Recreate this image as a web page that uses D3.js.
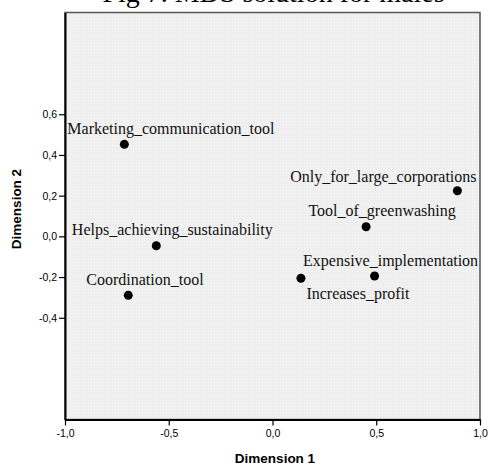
<!DOCTYPE html>
<html>
<head>
<meta charset="utf-8">
<script src="https://cdn.jsdelivr.net/npm/d3@7"></script>
<style>
  html, body { margin: 0; padding: 0; background: #fff; }
  svg { display: block; }
</style>
</head>
<body>
<svg id="chart" width="490" height="466"></svg>
<script>
// MDS stimulus coordinates
const stimuli = [
  "Marketing_communication_tool",
  "Helps_achieving_sustainability",
  "Coordination_tool",
  "Only_for_large_corporations",
  "Tool_of_greenwashing",
  "Expensive_implementation",
  "Increases_profit"
];
const dim1 = [-0.714, -0.560, -0.695, 0.891, 0.451, 0.492, 0.137];
const dim2 = [0.452, -0.046, -0.290, 0.224, 0.047, -0.195, -0.206];

// Tick values
const xTicks = [-1.0, -0.5, 0.0, 0.5, 1.0];
const yTicks = [-0.4, -0.2, 0.0, 0.2, 0.4, 0.6];

// Label placement relative to each point (label centre x, baseline y)
const labelShift = [
  [46.5, -10], [16, -10.7], [16.7, -10.3], [-74, -9], [16, -10.7], [16, -10], [57, 21]
];

const svg = d3.select("#chart");
const plot = { left: 65, right: 480, top: 12.5, bottom: 419.5 };

const x = d3.scaleLinear().domain([-1, 1]).range([plot.left, plot.right]);
const y = d3.scaleLinear().domain([-0.9, 1.1]).range([plot.bottom, plot.top]);
const fmt = v => d3.format(".1f")(v).replace(".", ",").replace("−", "-");

// Title (sits mostly above the top edge of the page)
svg.append("text")
  .attr("x", 273.5).attr("y", 1.5)
  .attr("text-anchor", "middle")
  .style("font-family", "'Liberation Serif', 'Times New Roman', serif")
  .style("font-size", "28px")
  .text("Fig 7. MDS solution for males");

// Plot background with fine dot texture
const defs = svg.append("defs");
const pat = defs.append("pattern")
  .attr("id", "dots").attr("width", 3).attr("height", 3)
  .attr("patternUnits", "userSpaceOnUse");
pat.append("rect").attr("width", 3).attr("height", 3).attr("fill", "#efefef");
pat.append("rect").attr("x", 1).attr("y", 1).attr("width", 1).attr("height", 1).attr("fill", "#f7f7f7");

svg.append("rect")
  .attr("x", plot.left).attr("y", plot.top)
  .attr("width", plot.right - plot.left).attr("height", plot.bottom - plot.top)
  .attr("fill", "url(#dots)")
  .attr("stroke", "#555").attr("stroke-width", 1.5);

// Axes
const xAxis = d3.axisBottom(x).tickValues(xTicks).tickFormat(fmt).tickSize(6).tickSizeOuter(0);
const yAxis = d3.axisLeft(y).tickValues(yTicks).tickFormat(fmt).tickSize(6).tickSizeOuter(0);

const gx = svg.append("g").attr("transform", `translate(0,${plot.bottom})`).call(xAxis);
const gy = svg.append("g").attr("transform", `translate(${plot.left},0)`).call(yAxis);

[gx, gy].forEach(g => {
  g.select(".domain").attr("stroke", "#000").attr("stroke-width", 2);
  g.selectAll(".tick line").attr("stroke", "#000").attr("stroke-width", 1.2);
  g.selectAll(".tick text")
    .attr("fill", "#000")
    .style("font-family", "Arial, 'Liberation Sans', sans-serif")
    .style("font-size", "10.5px");
});
gx.selectAll(".tick text").attr("dy", "0.71em").attr("y", 10);
gy.selectAll(".tick text").attr("x", -8);

// Axis titles
svg.append("text")
  .attr("x", 275).attr("y", 463)
  .attr("text-anchor", "middle")
  .style("font-family", "Arial, 'Liberation Sans', sans-serif")
  .style("font-size", "13.5px").style("font-weight", "bold")
  .text("Dimension 1");

svg.append("text")
  .attr("transform", "translate(21,209) rotate(-90)")
  .attr("text-anchor", "middle")
  .style("font-family", "Arial, 'Liberation Sans', sans-serif")
  .style("font-size", "13.5px").style("font-weight", "bold")
  .text("Dimension 2");

// Points and labels
const data = stimuli.map((name, i) => ({ name, d1: dim1[i], d2: dim2[i], shift: labelShift[i] }));

svg.append("g").selectAll("circle")
  .data(data).join("circle")
  .attr("cx", d => x(d.d1)).attr("cy", d => y(d.d2))
  .attr("r", 4.5).attr("fill", "#000");

svg.append("g").selectAll("text")
  .data(data).join("text")
  .attr("x", d => x(d.d1) + d.shift[0])
  .attr("y", d => y(d.d2) + d.shift[1])
  .attr("text-anchor", "middle")
  .style("font-family", "'Liberation Serif', 'Times New Roman', serif")
  .style("font-size", "16px")
  .attr("fill", "#111")
  .text(d => d.name);
</script>
</body>
</html>
